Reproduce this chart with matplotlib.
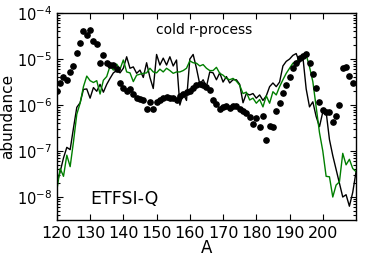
import numpy as np
import matplotlib
matplotlib.use('Agg')
import matplotlib.pyplot as plt
from matplotlib.ticker import LogLocator, NullFormatter

plt.rcParams['axes.unicode_minus'] = False
plt.rcParams['font.family'] = 'DejaVu Sans'

# mass numbers for the two calculations
mass_model = list(range(120, 211))

# log10 abundance, black curve
log_black = [
	-7.70, -7.45, -7.15, -6.92, -6.97, -6.50, -6.05, -5.95, -5.66, -5.65,
	-5.85, -5.62, -5.70, -5.55, -5.72, -5.55, -5.42, -5.30, -5.25, -5.30,
	-5.20, -4.95, -5.20, -5.17, -5.31, -5.24, -5.40, -5.08, -5.40, -5.64,
	-4.90, -5.13, -4.98, -5.13, -4.95, -5.15, -5.02, -6.00, -5.75, -5.90,
	-5.00, -4.90, -5.20, -5.55, -5.45, -5.60, -5.28, -5.30, -5.45, -5.30,
	-5.50, -5.38, -5.52, -5.45, -5.45, -5.55, -5.95, -5.75, -5.78, -5.75,
	-5.85, -5.78, -5.90, -5.80, -5.60, -5.52, -5.60, -5.50, -5.15, -5.05,
	-5.00, -4.92, -4.88, -5.08, -4.95, -5.65, -6.04, -5.93, -6.25, -6.47,
	-6.15, -6.15, -6.75, -7.10, -7.40, -7.70, -8.00, -7.95, -8.20, -7.90,
	-7.45,
]

# log10 abundance, green curve
log_green = [
	-7.85, -7.38, -7.55, -7.09, -7.34, -6.80, -6.20, -5.96, -5.60, -5.37,
	-5.47, -5.51, -5.47, -5.76, -5.46, -5.38, -5.15, -5.24, -5.11, -5.22,
	-5.02, -5.28, -5.30, -5.49, -5.35, -5.33, -5.31, -5.30, -5.20, -5.28,
	-5.30, -5.22, -5.28, -5.20, -5.25, -5.31, -5.28, -5.28, -5.25, -5.20,
	-5.04, -5.08, -5.09, -5.15, -5.12, -5.20, -5.25, -5.25, -5.18, -5.31,
	-5.35, -5.42, -5.45, -5.42, -5.48, -5.57, -5.75, -5.72, -5.89, -5.85,
	-5.96, -5.88, -6.04, -5.80, -5.96, -5.71, -5.78, -5.60, -5.45, -5.31,
	-5.20, -5.09, -5.06, -4.98, -4.93, -4.91, -5.17, -5.49, -6.04, -6.60,
	-7.00, -7.55, -7.56, -8.00, -7.74, -7.67, -7.05, -7.30, -7.18, -7.38,
	-7.45,
]

# solar r-process points
mass_solar = list(range(120, 210))
log_solar = [
	-5.69, -5.53, -5.38, -5.46, -5.28, -5.15, -4.86, -4.65, -4.39, -4.48,
	-4.37, -4.61, -4.68, -5.08, -4.92, -5.09, -5.12, -5.13, -5.22, -5.53,
	-5.62, -5.70, -5.66, -5.77, -5.84, -5.87, -5.88, -6.09, -5.93, -6.09,
	-5.93, -5.89, -5.85, -5.82, -5.84, -5.85, -5.88, -5.80, -5.76, -5.72,
	-5.70, -5.62, -5.57, -5.55, -5.57, -5.60, -5.68, -5.88, -5.97, -6.09,
	-6.05, -6.03, -6.07, -6.02, -6.02, -6.09, -6.13, -6.18, -6.25, -6.41,
	-6.29, -6.47, -6.23, -6.75, -6.46, -6.48, -6.13, -5.95, -5.73, -5.57,
	-5.38, -5.20, -5.09, -4.97, -4.93, -4.90, -5.08, -5.33, -5.62, -5.93,
	-6.11, -6.15, -6.16, -6.36, -6.24, -6.00, -5.20, -5.17, -5.37, -5.53,
]

x_ticks = [120, 130, 140, 150, 160, 170, 180, 190, 200]

fig = plt.figure(figsize=(3.74, 2.67), dpi=100)
ax = fig.add_axes([0.152, 0.176, 0.800, 0.775])

ax.plot(mass_model, 10**np.array(log_black), color='k', lw=1.0)
ax.plot(mass_model, 10**np.array(log_green), color='#007f00', lw=1.0)
ax.plot(mass_solar, 10**np.array(log_solar), 'o', color='k', ms=3.8, mec='k')

ax.set_yscale('log')
ax.set_xlim(120, 210)
ax.set_ylim(10**-8.5, 1e-4)
ax.set_xticks(x_ticks)
ax.yaxis.set_major_locator(LogLocator(base=10, numticks=10))
ax.yaxis.set_minor_locator(LogLocator(base=10, subs=np.arange(2, 10), numticks=10))
ax.yaxis.set_minor_formatter(NullFormatter())

ax.tick_params(which='both', direction='in', top=True, right=True, width=0.8)
ax.tick_params(axis='x', labelsize=11.5, pad=4)
ax.tick_params(axis='y', labelsize=10.5)
ax.tick_params(which='major', length=4)
ax.tick_params(which='minor', length=2)
for s in ax.spines.values():
	s.set_linewidth(1.0)

ax.set_xlabel('A', fontsize=12, labelpad=-1)
ax.set_ylabel('abundance', fontsize=11, labelpad=1)
ax.text(0.493, 0.918, 'cold r-process', transform=ax.transAxes, ha='center', va='center', fontsize=10)
ax.text(0.11, 0.10, 'ETFSI-Q', transform=ax.transAxes, ha='left', va='center', fontsize=12.5)

fig.savefig('out.png', dpi=100)
